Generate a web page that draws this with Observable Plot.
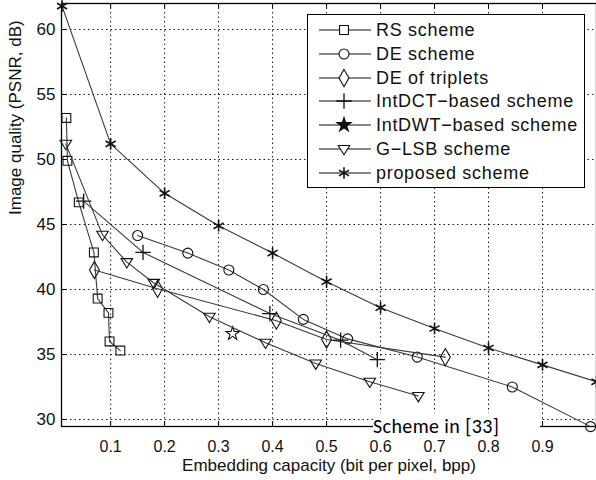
<!DOCTYPE html>
<html><head><meta charset="utf-8">
<script src="https://cdn.jsdelivr.net/npm/d3@7"></script>
<script src="https://cdn.jsdelivr.net/npm/@observablehq/plot@0.6"></script>
<style>
body{margin:0;background:#fff;}
#wrap{position:relative;width:596px;height:480px;overflow:hidden;font-family:"Liberation Sans",Arial,sans-serif;}
#legend{position:absolute;left:307px;top:14px;width:278px;height:174px;border:1.3px solid #000;background:#fff;box-sizing:border-box;}
.row{position:absolute;left:0;height:22px;display:flex;align-items:center;}
.row svg{margin-left:10px;}
.row span{margin-left:4px;font-size:18px;letter-spacing:0.7px;color:#111;white-space:nowrap;}
#notebox{position:absolute;left:373px;top:413px;width:167px;height:24px;background:#fff;}
#note{position:absolute;left:373px;top:418px;font-family:Carlito,"Open Sans",sans-serif;font-size:20px;letter-spacing:0.4px;line-height:17px;color:#000;white-space:nowrap;}
</style></head>
<body><div id="wrap"><div id="chart"></div><div id="legend"></div><div id="notebox"></div><div id="note">Scheme in [33]</div></div>
<script>
// ---- data ----
const seriesNames = ["RS scheme","DE scheme","DE of triplets","IntDCT\u2212based scheme","IntDWT\u2212based scheme","G\u2212LSB scheme","proposed scheme"];
const rsX = [0.018,0.02,0.041,0.069,0.076,0.096,0.098,0.118];
const rsY = [53.2,49.9,46.7,42.85,39.3,38.2,36.0,35.3];
const deX = [0.15,0.243,0.319,0.383,0.457,0.539,0.668,0.844,0.989];
const deY = [44.15,42.8,41.5,40.0,37.7,36.2,34.8,32.5,29.45];
const triX = [0.07,0.187,0.407,0.5,0.72];
const triY = [41.5,40.05,37.6,36.15,34.8];
const dctX = [0.05,0.16,0.395,0.526,0.594];
const dctY = [46.8,42.85,38.15,36.1,34.6];
const dwtX = [0.326];
const dwtY = [36.6];
const lsbX = [0.017,0.085,0.13,0.18,0.283,0.387,0.48,0.58,0.67];
const lsbY = [51.2,44.2,42.1,40.5,37.9,35.9,34.3,32.9,31.8];
const propX = [0.01,0.1,0.2,0.3,0.4,0.5,0.6,0.7,0.8,0.9,1.0];
const propY = [61.8,51.2,47.4,44.9,42.8,40.6,38.6,37.0,35.5,34.2,32.9];
const xTicks = [0.1,0.2,0.3,0.4,0.5,0.6,0.7,0.8,0.9];
const yTicks = [30,35,40,45,50,55,60];
const xLabel = "Embedding capacity (bit per pixel, bpp)";
const yLabel = "Image quality (PSNR, dB)";

const triDown = {draw(ctx,size){const r=Math.sqrt(size/Math.PI);ctx.moveTo(-r*1.05,-r*0.65);ctx.lineTo(r*1.05,-r*0.65);ctx.lineTo(0,r*1.05);ctx.closePath();}};
const symbols = [d3.symbolSquare,d3.symbolCircle,d3.symbolDiamond,d3.symbolPlus,d3.symbolStar,triDown,d3.symbolAsterisk];
const xs=[rsX,deX,triX,dctX,dwtX,lsbX,propX], ys=[rsY,deY,triY,dctY,dwtY,lsbY,propY];
const rs=[5,5,5.2,5,4.2,5.5,5.5];
const sw=[1.1,1.1,1.1,1.3,1.1,1.1,1.6];
const lineColor="#3a3a3a", markColor="#111";

const marks=[
  Plot.gridX(xTicks,{stroke:"#000",strokeOpacity:0.9,strokeDasharray:"1.5,3"}),
  Plot.gridY(yTicks,{stroke:"#000",strokeOpacity:0.9,strokeDasharray:"1.5,3"}),
  Plot.tickX(xTicks,{x:d=>d,insetTop:418,stroke:"#000"}),
  Plot.tickX(xTicks,{x:d=>d,insetBottom:418,stroke:"#000"}),
  Plot.tickY(yTicks,{y:d=>d,insetRight:530,stroke:"#000"}),
  Plot.axisX(xTicks,{tickSize:0,tickPadding:14,label:null,fontSize:16}),
  Plot.axisY(yTicks,{tickSize:0,tickPadding:6,label:null,fontSize:17}),
  Plot.frame({stroke:"#000",strokeWidth:1.3})
];
xs.forEach((X,i)=>{
  const data=X.map((x,j)=>({x,y:ys[i][j]}));
  if(data.length>1) marks.push(Plot.line(data,{x:"x",y:"y",stroke:lineColor,strokeWidth:1.1}));
  marks.push(Plot.dot(data,{x:"x",y:"y",symbol:()=>symbols[i],r:rs[i],stroke:markColor,fill:"none",strokeWidth:sw[i]}));
});
marks.push(Plot.text([xLabel],{text:d=>d,frameAnchor:"bottom",dy:44,fontSize:17,fill:"#111"}));
marks.push(Plot.text([yLabel],{text:d=>d,frameAnchor:"left",dx:-46,rotate:-90,fontSize:17,fill:"#111"}));

const chart=Plot.plot({
  width:596,height:480,marginLeft:61,marginRight:0,marginTop:3,marginBottom:54,
  x:{domain:[0.009,1.0]}, y:{domain:[29.46,62]},
  style:{fontFamily:"'Liberation Sans',Arial,sans-serif",fontSize:"17px",color:"#111",background:"#fff",overflow:"visible"},
  marks
});
document.getElementById("chart").appendChild(chart);

// legend
const leg=document.getElementById("legend");
const rowCenters=[30,54,78,101,125,149,173];
seriesNames.forEach((name,i)=>{
  const row=document.createElement("div");
  row.className="row";
  row.style.top=(rowCenters[i]-14-11-1)+"px";
  const svg=d3.create("svg").attr("width",54).attr("height",22);
  svg.append("line").attr("x1",1).attr("x2",53).attr("y1",11).attr("y2",11).attr("stroke","#111").attr("stroke-width",1.2);
  const lr = i===4 ? 4.5 : rs[i];
  svg.append("path").attr("transform","translate(26,11)")
    .attr("d",d3.symbol(symbols[i],lr*lr*Math.PI)())
    .attr("fill",i===4?"#111":"#fff").attr("stroke",markColor).attr("stroke-width",sw[i]);
  row.appendChild(svg.node());
  const t=document.createElement("span");t.textContent=name;row.appendChild(t);
  leg.appendChild(row);
});
</script></body></html>
